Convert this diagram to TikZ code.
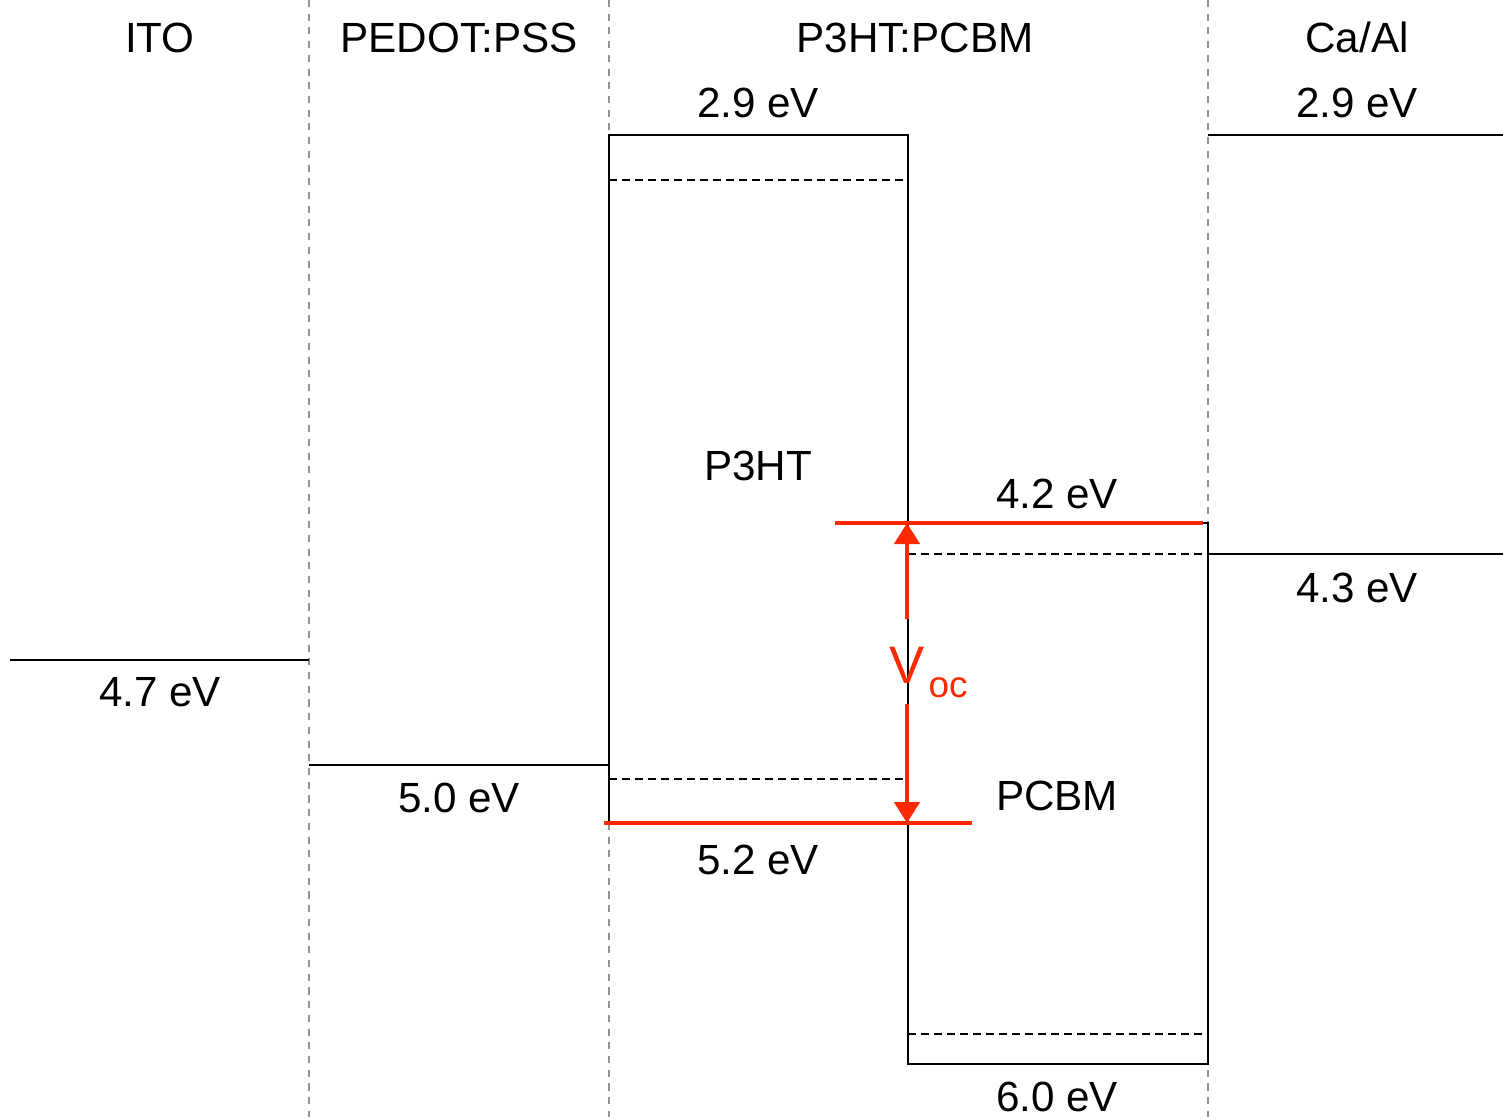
\documentclass[tikz,border=0pt]{standalone}
\usepackage{fontspec}
\setmainfont{Liberation Sans}
\usetikzlibrary{arrows.meta}
\definecolor{vocred}{RGB}{255,40,0}

\begin{document}
\begin{tikzpicture}[x=0.01cm, y=-0.01cm, every node/.style={font=\fontsize{12}{14}\selectfont, inner sep=0pt, anchor=base},
	sep/.style={gray!85, line width=0.65pt, dash pattern=on 2pt off 1.9pt},
	lvl/.style={black, line width=0.75pt},
	sublvl/.style={black, line width=0.7pt, dash pattern=on 2.3pt off 1.4pt},
	redlvl/.style={vocred, line width=1pt},
	vocarrow/.style={vocred, line width=1.3pt, -{Triangle[length=0.21cm, width=0.25cm]}},
	voclab/.style={text=vocred, font=\fontsize{15}{18}\selectfont, anchor=center, inner xsep=0pt, inner ysep=0.2cm, text height=0.43cm, text depth=0cm}]
	\useasboundingbox (0,0) rectangle (1503,1117);
	\foreach \x in {309,609,1208}
		\draw[sep] (\x,0) -- (\x,1117);
	% layer names
	\node (ito) at (160,52) {ITO};
	\node (pedot) at (459,52) {PEDOT:PSS};
	\node (blend) at (915,52) {P3HT:PCBM};
	\node (cathode) at (1357,52) {Ca/Al};
	% electrodes and hole layer
	\draw[lvl] (10,660) -- (309,660);
	\draw[lvl] (309,765) -- (609,765);
	\draw[lvl] (1208,135) -- (1503,135);
	\draw[lvl] (1208,554) -- (1503,554);
	\node (ito wf) at (160,706) {4.7 eV};
	\node (pedot wf) at (459,812) {5.0 eV};
	\node (ca lumo) at (1357,117) {2.9 eV};
	\node (ca wf) at (1357,602) {4.3 eV};
	% donor and acceptor bands
	\draw[lvl] (609,135) rectangle (908,823);
	\draw[lvl] (908,523) rectangle (1208,1064);
	\draw[sublvl] (609,180) -- (905,180);
	\draw[sublvl] (609,779) -- (905,779);
	\draw[sublvl] (908,554) -- (1205,554);
	\draw[sublvl] (908,1034) -- (1205,1034);
	\node (p3ht lumo) at (758,117) {2.9 eV};
	\node (p3ht) at (758,480) {P3HT};
	\node (p3ht homo) at (758,874) {5.2 eV};
	\node (pcbm lumo) at (1057,508) {4.2 eV};
	\node (pcbm) at (1057,810) {PCBM};
	\node (pcbm homo) at (1057,1111) {6.0 eV};
	% open circuit voltage
	\draw[redlvl] (835,523) -- (1203,523);
	\draw[redlvl] (604,823) -- (972,823);
	\coordinate (acc lumo) at (907,523);
	\coordinate (don homo) at (907,823);
	\node[voclab] (voc) at (907,661.5) {V\rlap{\kern0.04cm\raisebox{-0.14cm}{\fontsize{10.5}{12}\selectfont oc}}};
	\draw[vocarrow] (voc) -- (acc lumo);
	\draw[vocarrow] (voc) -- (don homo);
\end{tikzpicture}
\end{document}
